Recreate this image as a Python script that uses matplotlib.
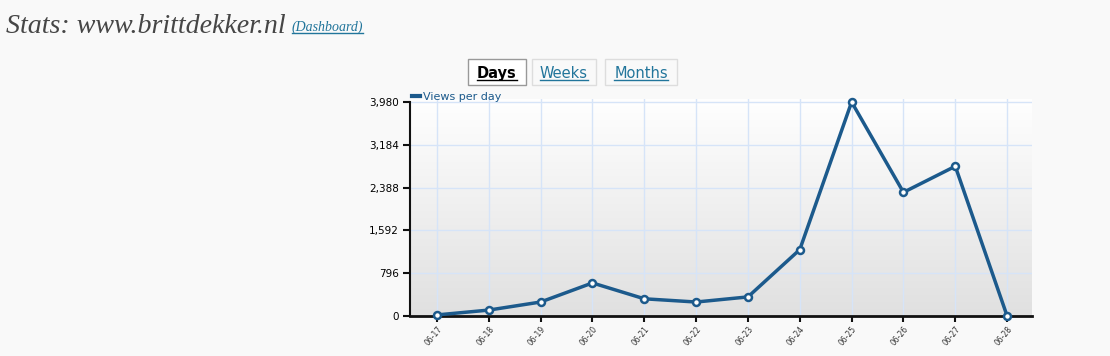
import numpy as np
import matplotlib
matplotlib.use("Agg")
import matplotlib.pyplot as plt
from matplotlib.patches import Rectangle
from matplotlib.lines import Line2D

# data
days = ["06-17", "06-18", "06-19", "06-20", "06-21", "06-22",
        "06-23", "06-24", "06-25", "06-26", "06-27", "06-28"]
views = [20, 110, 260, 615, 320, 260, 355, 1235, 3980, 2300, 2785, 0]
y_ticks = [0, 796, 1592, 2388, 3184, 3980]
tabs = ["Days", "Weeks", "Months"]

W, H = 1110, 356
fig = plt.figure(figsize=(W / 100, H / 100), dpi=100, facecolor="#f9f9f9")

def fx(px):
    return px / W

def fy(py):
    return 1 - py / H

blue = "#1c5a8c"
link = "#21759b"

### title
title = fig.text(fx(6), fy(33), "Stats: www.brittdekker.nl",
                 family="Liberation Serif", style="italic", fontsize=20,
                 color="#464646", va="baseline")
fig.canvas.draw()
r = fig.canvas.get_renderer()
tw = title.get_window_extent(r).width
title.set_fontsize(20 * 281 / tw)
fig.canvas.draw()
tb = title.get_window_extent(r)
dash = fig.text(tb.x1 / W + fx(6), fy(31), "(Dashboard)",
                family="Liberation Serif", style="italic", fontsize=10,
                color=link, va="baseline")

### tabs
tab_box = [(468, 526), (532, 596), (605, 677)]
for name, (x0, x1) in zip(tabs, tab_box):
    active = name == "Days"
    fig.patches.append(Rectangle((fx(x0), fy(85)), fx(x1 - x0), (85 - 59) / H,
                                 transform=fig.transFigure,
                                 facecolor="#ffffff" if active else "#f9f9f9",
                                 edgecolor="#999999" if active else "#dddddd",
                                 lw=1))
    fig.text(fx((x0 + x1) / 2), fy(78), name, ha="center", va="baseline",
             fontsize=10.5, fontweight="bold" if active else "normal",
             color="#000000" if active else link)

### plot area
ax = fig.add_axes([fx(410), fy(316), fx(1032 - 410), (316 - 99) / H])
ymax = 3980 * 216 / 213
ax.set_xlim(-0.52, len(days) - 0.52)
ax.set_ylim(0, ymax)

# gradient background
grad = np.linspace(0, 1, 256).reshape(-1, 1)
ax.imshow(grad, extent=[-0.52, len(days) - 0.52, 0, ymax],
          aspect="auto", cmap=matplotlib.colors.LinearSegmentedColormap.from_list(
              "bg", ["#e0e0e0", "#ffffff"]), origin="lower", zorder=0)

x = np.arange(len(days))
for xi in x:
    ax.axvline(xi, color="#d6e4f8", lw=1, zorder=1)
for yt in y_ticks[1:]:
    ax.axhline(yt, color="#d6e4f8", lw=1, zorder=1)

ax.plot(x, views, color=blue, lw=2.5, marker="o", ms=5, mfc="white",
        mec=blue, mew=1.8, zorder=3, clip_on=False)

ax.set_yticks(y_ticks)
ax.set_yticklabels([f"{v:,}" for v in y_ticks], fontsize=7.5)
ax.set_xticks(x)
ax.set_xticklabels(days, rotation=50, ha="right", rotation_mode="anchor",
                   fontsize=5.5, color="#333333")
ax.tick_params(axis="y", length=5, width=1.5, color="#111111", pad=3)
ax.tick_params(axis="x", length=4, width=1.5, color="#111111", pad=2)
for s in ["top", "right"]:
    ax.spines[s].set_visible(False)
ax.spines["left"].set_bounds(0, 3980)
ax.spines["left"].set_linewidth(1.5)
ax.spines["bottom"].set_linewidth(2)
ax.spines["left"].set_color("#111111")
ax.spines["bottom"].set_color("#111111")

### legend
fig.lines.append(Line2D([fx(412), fx(420)], [fy(96), fy(96)],
                        transform=fig.transFigure, color=blue, lw=3))
fig.text(fx(423), fy(100), "Views per day", fontsize=8, color=blue,
         va="baseline")

### underline links
fig.canvas.draw()
under = [dash] + [t for t in fig.texts if t.get_text() in tabs]
for t in under:
    bb = t.get_window_extent(r)
    yy = (bb.y0 + 1) / H
    fig.lines.append(Line2D([bb.x0 / W, bb.x1 / W], [yy, yy],
                            transform=fig.transFigure, color=t.get_color(),
                            lw=1))

fig.savefig("out.png", dpi=100, facecolor=fig.get_facecolor())
